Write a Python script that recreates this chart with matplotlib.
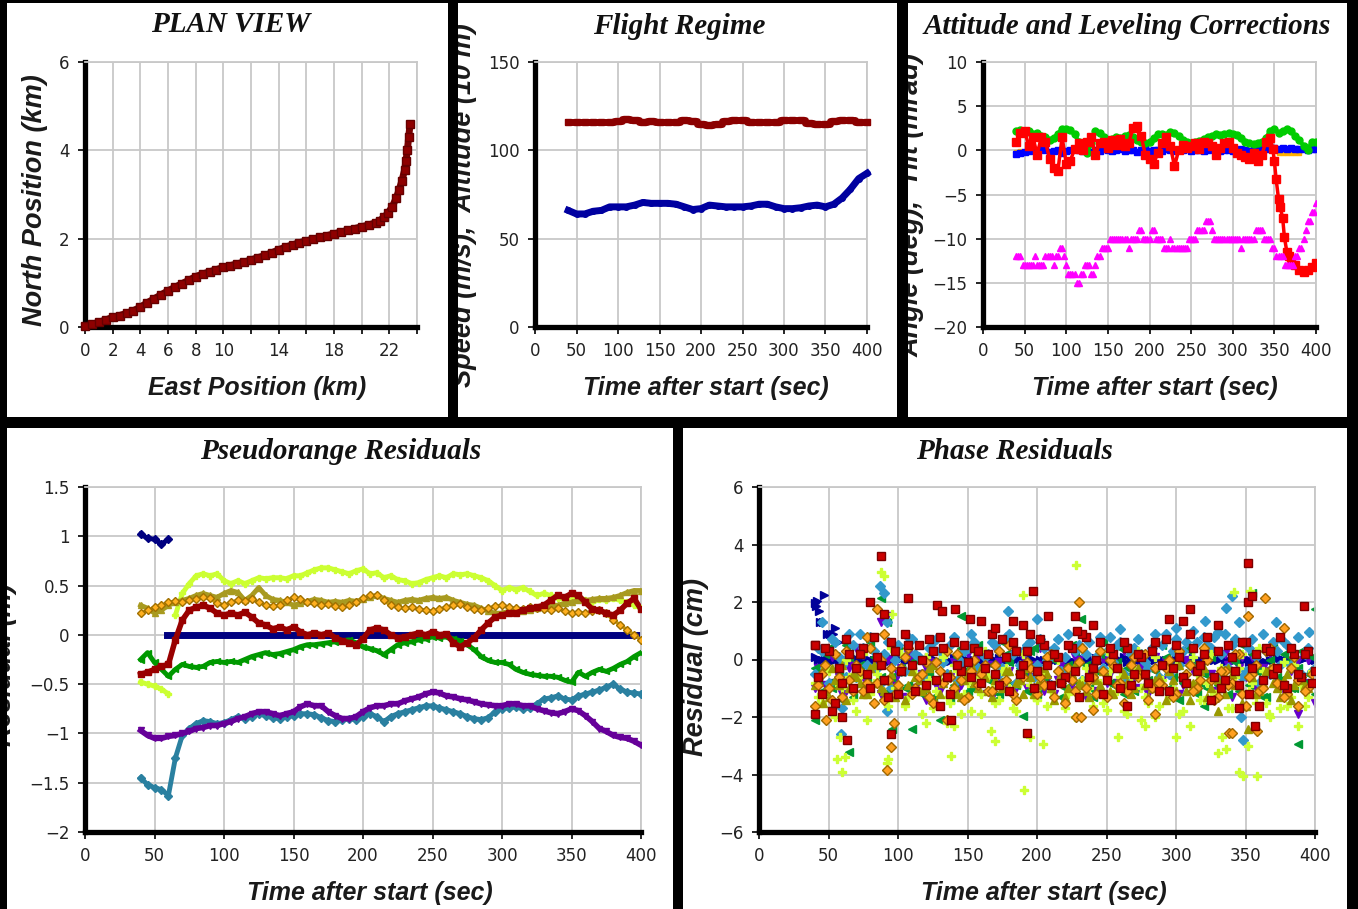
import matplotlib
matplotlib.use("Agg")
import matplotlib.pyplot as plt
from matplotlib.patches import Rectangle
from matplotlib.ticker import FixedLocator, FixedFormatter

# ---------------- DATA ----------------
# Plan view (km)
PLAN_E = [0.0, 0.5, 1.0, 1.5, 2.0, 2.5, 3.0, 3.5, 4.0, 4.5, 5.0, 5.5, 6.0, 6.5, 7.0, 7.5, 8.0,
          8.5, 9.0, 9.5, 10.0, 10.5, 11.0, 11.5, 12.0, 12.5, 13.0, 13.5, 14.0, 14.5, 15.0, 15.5,
          16.0, 16.5, 17.0, 17.5, 18.0, 18.5, 19.0, 19.5, 20.0, 20.5, 21.0, 21.3, 21.6, 21.9,
          22.2, 22.5, 22.7, 22.9, 23.1, 23.2, 23.3, 23.4, 23.5]
PLAN_N = [0.02, 0.06, 0.11, 0.16, 0.22, 0.26, 0.31, 0.37, 0.45, 0.55, 0.64, 0.73, 0.82, 0.9, 0.98,
          1.06, 1.14, 1.2, 1.25, 1.3, 1.35, 1.39, 1.43, 1.47, 1.52, 1.57, 1.62, 1.68, 1.75, 1.81,
          1.86, 1.91, 1.95, 1.99, 2.03, 2.07, 2.11, 2.15, 2.19, 2.23, 2.27, 2.31, 2.36, 2.41, 2.48,
          2.58, 2.72, 2.92, 3.1, 3.3, 3.55, 3.75, 4.0, 4.3, 4.6]

# Flight regime, every 10 s from 40 to 400
T10 = list(range(40, 401, 10))
ALTITUDE = [116, 116, 116, 116, 116, 116, 116.5, 118, 117, 116, 116.5, 116, 116, 116, 117,
            116.5, 115, 114.5, 115, 116.5, 117, 117, 116, 116, 116, 116, 117, 117, 117, 115.5,
            115, 115, 116.5, 117, 117, 116, 116]
SPEED = [66, 64, 64, 65.5, 66, 68, 68, 68, 69, 70.5, 70, 70, 70, 69.5, 68, 66.5, 67, 69, 68.5,
         68, 68, 68, 68.5, 69.5, 69.5, 68, 67, 67, 67.5, 68.5, 69, 68, 69.5, 73, 78, 84, 87]

# Common 5-s time bases
T5 = list(range(40, 401, 5))
T5B = [t + 2.5 for t in range(40, 400, 5)]

# Attitude and leveling corrections
ATT_GREEN = [2.2, 2.3, 2.0, 2.2, 1.8, 2.0, 1.6, 1.5, 1.2, 1.4,
             1.9, 2.4, 2.4, 2.3, 1.8, 1.0, 0.2, -0.3, 0.8, 2.2,
             2.0, 1.5, 1.0, 1.3, 1.5, 1.4, 1.6, 1.7, 1.5, 1.2,
             1.0, 0.8, 1.0, 1.4, 1.8, 1.9, 1.7, 2.1, 2.0, 1.6,
             1.2, 1.0, 0.8, 0.9, 1.1, 1.3, 1.5, 1.6, 1.8, 1.7,
             1.8, 2.0, 1.9, 1.7, 1.4, 1.0, 0.8, 0.7, 0.8, 0.9,
             1.4, 2.2, 2.4, 2.0, 2.2, 2.4, 2.2, 1.6, 1.2, 0.5,
             0.0, 1.0, 1.0]
ATT_BLUE = [-0.4, -0.3, -0.2, -0.1, 0.0, -0.2, 0.1, 0.0, -0.2, -0.1,
            0.0, -0.3, -0.1, 0.0, 0.1, 0.0, -0.1, 0.0, -0.2, 0.0,
            -0.1, 0.1, 0.0, -0.1, 0.0, 0.1, -0.1, 0.0, 0.0, -0.2,
            0.0, 0.1, -0.1, 0.0, 0.0, -0.1, 0.1, 0.0, -0.1, 0.0,
            0.0, 0.1, -0.1, 0.0, 0.0, -0.1, 0.0, 0.1, 0.0, -0.1,
            0.0, 0.0, -0.1, 0.0, 0.1, 0.0, -0.1, 0.0, 0.0, 0.1,
            0.2, 0.3, 0.3, 0.2, 0.3, 0.2, 0.3, 0.2, 0.1, 0.2,
            0.0, 0.1, 0.2]
ATT_ORANGE_T = [40, 45, 50, 355, 360, 365, 370, 375, 380]
ATT_ORANGE = [-0.2, -0.1, -0.2, -0.3, -0.35, -0.3, -0.35, -0.35, -0.3]
ATT_RED_T = [40, 45, 50, 55, 60, 65, 70, 75, 80, 85, 90, 95, 100, 105, 110, 115, 120, 125, 130,
             135, 140, 145, 150, 155, 160, 165, 170, 175, 180, 185, 190, 195, 200, 205, 210, 215,
             220, 225, 230, 235, 240, 245, 250, 255, 260, 265, 270, 275, 280, 285, 290, 295, 300,
             305, 310, 315, 320, 325, 330, 335, 340, 345, 348, 350, 352, 355, 357, 360, 362, 365,
             367, 370, 375, 380, 385, 390, 395, 400]
ATT_RED = [1.0, 2.0, 2.2, 0.5, 1.5, -0.5, 1.5, 1.0, -1.0, -2.0, -2.3, 1.5, -1.5, -1.2, 0.2, 0.8,
           0.0, 1.0, 1.5, -0.5, 0.8, 1.0, 0.3, 1.2, 0.6, 1.3, 0.5, 0.8, 2.5, 2.8, 1.6, -0.5,
           -1.0, -1.5, -0.3, 0.8, 1.5, 0.5, -1.8, 0.0, 0.6, 0.3, 0.5, 0.8, 0.2, 1.0, 0.8, 0.5,
           -0.5, 0.3, 0.8, 1.0, 0.3, -0.3, -0.5, -0.8, -1.0, -0.3, -1.2, -0.5, 1.0, 1.4, 0.2,
           -1.2, -3.2, -5.5, -6.4, -7.7, -9.8, -11.5, -12.0, -12.6, -13.0, -13.5, -13.8, -13.6,
           -13.2, -12.7]
ATT_MAGENTA = [-12, -12, -13, -13, -13, -13, -13, -12, -12, -13,
               -12, -11, -13, -14, -14, -15, -14, -13, -14, -13,
               -12, -11, -11, -10, -10, -10, -10, -11, -10, -10,
               -9, -10, -10, -9, -10, -10, -11, -10, -11, -11,
               -11, -11, -10, -10, -9, -9, -8, -9, -10, -10,
               -10, -10, -10, -10, -11, -10, -10, -10, -9, -9,
               -10, -10, -11, -12, -12, -13, -13, -12, -11, -10,
               -8, -7, -6]
ATT_MAGENTA_B = [-12, -13, -13, -13, -12, -13, -13, -12, -12, -12,
                 -11, -12, -14, -14, -15, -14, -13, -13, -14, -12,
                 -11, -11, -10, -10, -10, -10, -10, -10, -10, -9,
                 -10, -10, -9, -10, -10, -11, -11, -11, -11, -11,
                 -11, -10, -10, -9, -9, -8, -8, -10, -10, -10,
                 -10, -10, -10, -10, -10, -10, -10, -9, -9, -10,
                 -10, -11, -12, -12, -13, -13, -13, -12, -11, -9,
                 -8, -7]

# Pseudorange residuals (m)
PR_NAVY_A_T = [40, 45, 50, 55, 60]
PR_NAVY_A = [1.02, 0.98, 0.97, 0.92, 0.97]
PR_NAVY_B_T = [59, 400]
PR_NAVY_B = [0.0, 0.0]
PR_CHART_A_T = [40, 45, 50, 55, 60]
PR_CHART_A = [-0.48, -0.5, -0.52, -0.55, -0.6]
PR_CHART_B_T = list(range(65, 401, 5))
PR_CHART_B = [0.2, 0.42, 0.52, 0.6, 0.62, 0.6, 0.62, 0.55, 0.52, 0.55,
              0.52, 0.55, 0.58, 0.57, 0.58, 0.58, 0.57, 0.6, 0.6, 0.63,
              0.66, 0.68, 0.68, 0.66, 0.64, 0.62, 0.65, 0.67, 0.62, 0.63,
              0.58, 0.6, 0.56, 0.55, 0.52, 0.53, 0.56, 0.58, 0.6, 0.58,
              0.62, 0.61, 0.62, 0.6, 0.58, 0.55, 0.5, 0.45, 0.48, 0.46,
              0.48, 0.44, 0.4, 0.42, 0.4, 0.37, 0.36, 0.35, 0.38, 0.35,
              0.33, 0.36, 0.35, 0.37, 0.35, 0.33, 0.3, 0.27]
PR_OLIVE = [0.3, 0.27, 0.22, 0.25, 0.3, 0.33, 0.35, 0.37, 0.4, 0.42,
            0.4, 0.38, 0.42, 0.45, 0.43, 0.35, 0.4, 0.48, 0.4, 0.36,
            0.35, 0.33, 0.3, 0.32, 0.34, 0.36, 0.35, 0.33, 0.34, 0.33,
            0.35, 0.34, 0.36, 0.38, 0.4, 0.37, 0.35, 0.33, 0.35, 0.36,
            0.35, 0.37, 0.38, 0.37, 0.38, 0.35, 0.33, 0.31, 0.3, 0.27,
            0.24, 0.22, 0.22, 0.24, 0.25, 0.24, 0.25, 0.27, 0.28, 0.3,
            0.3, 0.32, 0.33, 0.35, 0.35, 0.36, 0.37, 0.37, 0.38, 0.4,
            0.43, 0.45, 0.45]
PR_ORANGE = [0.22, 0.25, 0.28, 0.3, 0.33, 0.34, 0.33, 0.35, 0.36, 0.38,
             0.37, 0.32, 0.3, 0.33, 0.35, 0.34, 0.36, 0.33, 0.3, 0.29,
             0.3, 0.35, 0.38, 0.36, 0.33, 0.32, 0.3, 0.31, 0.29, 0.28,
             0.3, 0.33, 0.37, 0.4, 0.4, 0.35, 0.3, 0.28, 0.27, 0.28,
             0.26, 0.25, 0.24, 0.26, 0.28, 0.3, 0.31, 0.28, 0.26, 0.25,
             0.27, 0.29, 0.3, 0.28, 0.27, 0.26, 0.28, 0.27, 0.26, 0.25,
             0.27, 0.24, 0.22, 0.23, 0.22, 0.24, 0.25, 0.22, 0.15, 0.1,
             0.05, 0.0, -0.05]
PR_DARKRED = [-0.4, -0.38, -0.35, -0.32, -0.3, -0.05, 0.15, 0.25, 0.28, 0.3,
              0.27, 0.22, 0.2, 0.22, 0.2, 0.23, 0.18, 0.12, 0.1, 0.06,
              0.08, 0.05, 0.08, 0.03, 0.0, 0.02, 0.0, 0.02, -0.03, -0.06,
              -0.08, -0.1, -0.04, 0.05, 0.07, 0.05, 0.0, -0.03, -0.02, 0.0,
              0.02, 0.0, 0.03, 0.0, 0.01, -0.08, -0.12, -0.08, -0.03, 0.05,
              0.12, 0.18, 0.2, 0.22, 0.22, 0.25, 0.27, 0.28, 0.3, 0.35,
              0.4, 0.38, 0.42, 0.4, 0.33, 0.26, 0.25, 0.22, 0.2, 0.25,
              0.32, 0.37, 0.26]
PR_GREEN = [-0.25, -0.18, -0.28, -0.35, -0.42, -0.35, -0.3, -0.32, -0.33, -0.32,
            -0.28, -0.27, -0.28, -0.27, -0.28, -0.25, -0.22, -0.2, -0.18, -0.2,
            -0.19, -0.17, -0.15, -0.12, -0.1, -0.1, -0.09, -0.08, -0.07, -0.06,
            -0.05, -0.08, -0.12, -0.14, -0.16, -0.2, -0.15, -0.1, -0.08, -0.07,
            -0.05, -0.04, -0.02, -0.03, -0.02, -0.04, -0.06, -0.1, -0.15, -0.22,
            -0.26, -0.28, -0.28, -0.3, -0.35, -0.38, -0.4, -0.41, -0.42, -0.42,
            -0.43, -0.46, -0.48, -0.38, -0.42, -0.38, -0.35, -0.37, -0.34, -0.3,
            -0.27, -0.22, -0.18]
PR_TEAL = [-1.45, -1.52, -1.55, -1.57, -1.63, -1.25, -1.02, -0.95, -0.9, -0.87,
           -0.88, -0.9, -0.89, -0.86, -0.83, -0.85, -0.83, -0.8, -0.82, -0.84,
           -0.85, -0.83, -0.82, -0.8, -0.8, -0.81, -0.84, -0.87, -0.88, -0.86,
           -0.85, -0.86, -0.83, -0.8, -0.83, -0.88, -0.83, -0.8, -0.78, -0.76,
           -0.74, -0.72, -0.72, -0.74, -0.76, -0.78, -0.8, -0.83, -0.85, -0.86,
           -0.84, -0.78, -0.75, -0.74, -0.73, -0.75, -0.74, -0.7, -0.65, -0.64,
           -0.62, -0.65, -0.66, -0.62, -0.6, -0.58, -0.56, -0.53, -0.5, -0.55,
           -0.58, -0.59, -0.6]
PR_PURPLE = [-0.97, -1.02, -1.05, -1.05, -1.03, -1.02, -1.0, -0.98, -0.95, -0.94,
             -0.92, -0.92, -0.9, -0.88, -0.85, -0.83, -0.8, -0.78, -0.78, -0.8,
             -0.82, -0.8, -0.78, -0.73, -0.7, -0.72, -0.72, -0.78, -0.82, -0.85,
             -0.85, -0.83, -0.78, -0.74, -0.72, -0.72, -0.7, -0.7, -0.67, -0.65,
             -0.63, -0.6, -0.58, -0.59, -0.62, -0.63, -0.65, -0.66, -0.68, -0.7,
             -0.71, -0.72, -0.72, -0.7, -0.7, -0.72, -0.72, -0.75, -0.77, -0.79,
             -0.8, -0.78, -0.75, -0.77, -0.82, -0.88, -0.95, -0.98, -1.02, -1.04,
             -1.05, -1.08, -1.12]
PR_YTICKS = [-2, -1.5, -1, -0.5, 0, 0.5, 1, 1.5]
PR_YLABELS = ['\u22122', '\u22121.5', '\u22121', '\u22120.5', '0', '0.5', '1', '1.5']

# Phase residuals (cm): core band (two interleaved 5-s samplings) + visible outliers
PH_NAVY = [0.1, 0.0, -0.1, 0.0, 0.05, -0.05, 0.0, 0.1, 0.0, -0.1,
           0.0, 0.05, 0.0, -0.05, 0.0, 0.1, 0.0, 0.0, -0.1, 0.0,
           0.05, 0.0, -0.05, 0.0, 0.0, 0.1, 0.0, -0.05, 0.0, 0.05,
           0.0, 0.0, -0.1, 0.0, 0.05, 0.0, 0.0, -0.05, 0.1, 0.0,
           0.0, -0.05, 0.0, 0.05, 0.0, -0.1, 0.0, 0.0, 0.05, 0.0,
           -0.05, 0.0, 0.1, 0.0, 0.0, -0.05, 0.0, 0.05, 0.0, -0.1,
           0.0, 0.0, 0.05, -0.1, -0.15, -0.1, 0.0, 0.05, 0.0, -0.05,
           0.0, 0.1, 0.0]
PH_NAVY_B = [0.0, 0.05, 0.0, -0.1, 0.0, 0.1, 0.0, -0.05, 0.0, 0.05,
             -0.1, 0.0, 0.05, 0.0, -0.05, 0.0, 0.1, 0.0, 0.0, -0.05,
             0.0, 0.05, 0.0, -0.1, 0.0, 0.0, 0.05, 0.0, -0.05, 0.0,
             0.1, 0.0, 0.0, -0.05, 0.0, 0.05, 0.0, -0.1, 0.0, 0.0,
             0.05, 0.0, -0.05, 0.0, 0.1, 0.0, 0.0, -0.05, 0.0, 0.05,
             0.0, -0.1, 0.0, 0.0, 0.05, 0.0, -0.05, 0.0, 0.1, 0.0,
             0.0, -0.05, -0.1, -0.15, -0.1, 0.0, 0.05, 0.0, -0.05, 0.0,
             0.05, 0.0]
PH_NAVY_X_T = [40, 41, 42, 43, 44, 46, 47, 49, 51, 53, 55, 57]
PH_NAVY_X = [1.95, 1.85, 2.05, 1.7, 1.3, 1.3, 2.25, 0.9, 0.9, 0.9, 1.1, 0.6]

PH_PURPLE = [-1.0, -0.4, 0.2, -0.8, -1.2, -0.3, 0.4, -0.6, -1.0, -0.2,
             0.1, -0.9, -0.5, -1.3, 0.0, -0.7, -0.3, 0.3, -1.1, -0.6,
             -0.1, -0.9, 0.2, -0.5, -1.2, -0.2, 0.4, -0.8, -0.4, -1.0,
             0.1, -0.6, -0.2, -1.1, 0.3, -0.7, -0.3, -0.9, 0.0, -1.3,
             -0.5, 0.2, -0.8, -0.1, -1.0, 0.4, -0.6, -0.3, -1.2, 0.1,
             -0.7, -0.4, 0.3, -0.9, -0.2, -1.1, 0.0, -0.5, -0.8, 0.2,
             -1.3, -0.3, -0.6, 0.1, -1.0, -0.4, 0.3, -0.8, -1.2, -0.2,
             -0.6, 0.0, -1.5]
PH_PURPLE_B = [-0.3, -0.9, 0.1, -0.6, -1.1, -0.2, 0.3, -0.8, -0.4, -1.2,
               0.0, -0.7, -0.3, 0.2, -1.0, -0.5, -0.1, -0.9, 0.3, -0.6,
               -1.1, -0.2, -0.7, 0.1, -0.4, -1.3, -0.1, -0.8, 0.2, -0.5,
               -1.0, -0.3, 0.4, -0.7, -1.2, -0.2, -0.6, 0.1, -0.9, -0.4,
               -1.1, 0.0, -0.5, -0.8, 0.3, -0.3, -1.0, -0.6, 0.2, -0.9,
               -0.1, -0.7, -1.2, 0.0, -0.4, -0.8, 0.3, -1.1, -0.5, -0.2,
               -0.9, 0.1, -0.6, -1.0, -0.3, 0.2, -0.7, -1.1, -0.4, 0.0,
               -0.8, -0.5]
PH_PURPLE_X_T = [88, 92, 120, 388]
PH_PURPLE_X = [1.3, 1.5, -1.4, -1.9]

PH_GREEN = [-0.3, -1.1, 0.4, -0.7, -1.4, 0.1, -0.5, -0.9, 0.6, -0.2,
            -1.2, -0.6, 0.3, -1.0, -0.4, 0.5, -0.8, -1.3, 0.0, -0.5,
            -0.9, 0.4, -1.1, -0.3, 0.2, -0.7, -1.4, 0.6, -0.1, -0.9,
            -0.5, 0.3, -1.2, -0.6, 0.1, -0.4, -1.0, 0.5, -0.8, -0.2,
            -1.3, 0.2, -0.6, -0.9, 0.4, -0.3, -1.1, 0.0, -0.7, -0.4,
            0.5, -1.0, -0.2, -0.8, 0.3, -1.2, -0.5, 0.1, -0.9, -0.3,
            0.6, -1.1, -0.6, 0.2, -0.4, -1.3, 0.4, -0.7, -0.1, -1.0,
            0.3, -0.5, -1.2]
PH_GREEN_B = [-0.7, 0.2, -1.0, -0.4, 0.5, -1.3, -0.2, -0.8, 0.1, -0.6,
              -1.1, 0.4, -0.3, -0.9, 0.0, -1.2, -0.5, 0.3, -0.7, -1.4,
              0.1, -0.4, -1.0, 0.5, -0.6, -0.2, -1.2, 0.2, -0.8, -0.3,
              -1.1, 0.4, -0.5, -0.9, 0.0, -1.3, -0.2, 0.3, -0.7, -1.0,
              -0.4, 0.6, -0.8, -0.1, -1.2, -0.5, 0.2, -0.9, -0.3, -1.1,
              0.1, -0.6, -1.4, 0.4, -0.2, -0.8, -1.0, 0.3, -0.5, -1.2,
              -0.1, 0.5, -0.9, -0.4, -1.3, 0.0, -0.6, 0.2, -1.0, -0.3,
              -0.8, 0.1]
PH_GREEN_X_T = [40, 65, 88, 92, 96, 110, 130, 145, 190, 232, 320, 355, 388, 400]
PH_GREEN_X = [-2.1, -3.2, 2.15, 1.3, -2.4, -2.4, -2.1, 1.5, -1.95, 1.4, -1.6, 2.3, -2.95, 1.75]

PH_OLIVE = [-0.9, -0.4, -1.3, -0.7, -0.2, -1.0, -0.6, -1.2, -0.3, -0.8,
            -1.1, -0.5, -0.9, -1.4, -0.4, -0.7, -1.0, -0.2, -1.2, -0.6,
            -0.9, -1.3, -0.5, -0.8, -0.3, -1.1, -0.7, -1.0, -0.4, -0.8,
            -1.2, -0.6, -0.9, -0.3, -1.0, -0.7, -1.3, -0.5, -0.8, -1.1,
            -0.4, -0.9, -0.6, -1.2, -0.3, -0.8, -1.0, -0.5, -1.3, -0.7,
            -0.9, -0.4, -1.1, -0.6, -1.4, -0.8, -0.3, -1.0, -0.7, -1.2,
            -0.5, -0.9, -1.6, -0.6, -1.1, -0.4, -0.8, -1.3, -0.5, -0.9,
            -0.7, -1.0, -0.6]
PH_OLIVE_B = [-0.6, -1.1, -0.3, -0.9, -1.4, -0.5, -0.8, -1.2, -0.2, -1.0,
              -0.7, -1.3, -0.4, -0.9, -0.6, -1.1, -0.3, -1.5, -0.8, -0.5,
              -1.2, -0.7, -0.2, -1.0, -0.6, -1.3, -0.9, -0.4, -1.1, -0.7,
              -0.3, -1.2, -0.8, -0.5, -1.4, -0.6, -1.0, -0.2, -0.9, -1.3,
              -0.7, -0.4, -1.1, -0.8, -0.5, -1.2, -0.3, -0.9, -1.0, -0.6,
              -1.4, -0.7, -0.2, -1.1, -0.8, -0.4, -1.3, -0.6, -1.0, -0.3,
              -0.9, -1.5, -0.5, -1.2, -0.8, -0.3, -1.0, -0.7, -1.4, -0.6,
              -0.9, -0.4]
PH_OLIVE_X_T = [46, 330, 352]
PH_OLIVE_X = [-1.5, -1.8, -2.4]

PH_TEAL = [-0.5, 0.3, -0.8, 0.6, -0.2, 0.9, -0.6, 0.4, 0.8, -0.3,
           0.2, -1.0, 0.5, -0.4, 0.7, 0.1, -0.7, 0.6, 0.3, -0.5,
           0.8, -0.1, 0.4, 0.6, -0.6, 0.2, 0.5, -0.3, 0.9, -0.8,
           0.3, 0.6, -0.2, 0.4, -0.9, 0.7, 0.1, -0.4, 0.5, 0.2,
           -0.6, 0.8, 0.3, -0.1, 0.6, -0.7, 0.4, 0.2, -0.3, 0.9,
           0.5, -0.5, 0.7, 0.3, -0.2, 0.6, 0.8, 0.4, -0.6, 0.9,
           0.5, 0.2, -0.4, 0.7, -0.8, 0.3, 0.6, -0.2, 0.5, 0.1,
           -0.5, 0.4, -0.3]
PH_TEAL_B = [0.4, -0.3, 0.7, 0.1, -0.6, 0.5, 0.9, -0.2, 0.3, -0.8,
             0.6, 0.0, -0.4, 0.8, 0.2, -0.5, 0.4, 0.7, -0.1, 0.5,
             -0.7, 0.3, 0.9, -0.3, 0.1, 0.6, -0.5, 0.8, 0.2, -0.2,
             0.5, -0.6, 0.7, 0.0, 0.4, -0.4, 0.9, 0.3, -0.7, 0.6,
             0.1, -0.3, 0.8, 0.5, -0.5, 0.2, 0.7, -0.1, 0.4, -0.6,
             0.9, 0.3, -0.2, 0.6, 1.0, -0.4, 0.5, 0.8, 0.2, -0.3,
             0.7, -0.6, 0.4, 0.1, 0.9, -0.5, 0.3, 0.6, -0.2, 0.8,
             0.2, -0.4]
PH_TEAL_X_T = [45, 59, 60, 87, 90, 92, 92, 179, 200, 260, 300, 321, 330, 336, 340, 345, 347, 348,
               372, 396]
PH_TEAL_X = [1.3, -2.6, -1.7, 2.55, 2.3, 1.3, -1.8, 1.7, 1.4, 1.05, 1.1, 1.35, 0.95, 1.8, 2.2,
             1.3, -2.0, -2.8, 1.3, 0.95]

PH_ORANGE = [-1.6, -0.5, -1.0, 0.2, -1.3, -0.7, -0.2, -1.1, 0.4, -0.8,
             -1.4, -0.3, -0.9, 0.1, -1.2, -0.6, -0.1, -1.5, -0.4, 0.3,
             -1.0, -0.7, -1.3, 0.0, -0.5, -1.1, -0.2, -0.8, 0.5, -1.4,
             -0.6, -0.3, -1.2, -0.9, 0.2, -0.4, -1.5, -0.7, -0.1, -1.0,
             -0.6, 0.3, -1.3, -0.2, -0.8, -1.1, 0.1, -0.5, -1.4, -0.3,
             -0.9, 0.0, -1.2, -0.6, -0.2, -1.0, 0.4, -0.7, -1.3, -0.4,
             -0.8, 0.2, -1.6, -0.5, -1.1, 0.3, -0.3, -0.9, -1.2, 0.1,
             -0.6, -1.0, -0.4]
PH_ORANGE_B = [-0.9, -0.2, -1.4, -0.6, 0.3, -1.1, -0.4, -0.8, -1.5, 0.0,
               -0.7, -1.2, -0.3, 0.4, -1.0, -0.5, -1.3, -0.1, -0.8, -0.6,
               0.2, -1.4, -0.4, -0.9, -0.2, -1.1, 0.3, -0.7, -1.2, -0.5,
               -0.1, -1.0, -0.6, 0.1, -1.3, -0.8, -0.3, -1.1, 0.4, -0.7,
               -1.2, -0.4, 0.0, -0.9, -1.5, -0.2, -0.6, 0.2, -1.0, -0.8,
               -0.3, -1.3, 0.3, -0.5, -1.1, -0.7, 0.0, -1.4, -0.4, -0.9,
               0.2, -1.2, -0.6, -0.2, -1.0, 0.4, -0.8, -1.3, -0.3, -0.7,
               -1.1, -0.5]
PH_ORANGE_X_T = [48, 78, 85, 90, 92, 95, 97, 135, 228, 230, 232, 240, 285, 338, 340, 352, 358,
                 364, 378, 388]
PH_ORANGE_X = [-2.1, 0.8, 1.75, 0.9, -3.85, -3.05, -2.2, -2.1, -2.0, 2.0, -2.0, -1.75, -1.9,
               -2.55, -2.55, 1.5, -2.5, 2.15, 1.1, -1.6]

PH_CHART = [-0.8, -1.5, -0.4, -2.0, -1.0, -0.6, -1.8, 0.2, -1.2, -0.5,
            -1.4, 0.4, -0.9, -1.6, -0.3, -1.1, 0.1, -1.7, -0.7, -1.3,
            -0.2, -1.9, -0.8, 0.3, -1.2, -0.6, -1.5, -0.4, -1.0, -1.8,
            0.2, -0.9, -1.4, -0.5, -1.1, 0.0, -1.7, -0.7, -1.3, -0.3,
            -1.6, -0.8, 0.3, -1.2, -0.6, -1.9, -0.4, -1.0, -1.5, 0.1,
            -0.7, -1.3, -0.2, -1.8, -0.9, -0.5, -1.4, 0.2, -1.1, -0.6,
            -1.7, -0.3, -1.2, -0.8, 0.4, -1.5, -0.5, -1.0, -1.6, -0.2,
            -0.9, -1.3, -0.7]
PH_CHART_B = [-1.3, -0.3, -1.7, -0.9, 0.0, -1.4, -0.6, -2.1, -0.8, -0.2,
              -1.6, -1.0, 0.2, -1.3, -0.5, -1.9, -0.7, -1.1, 0.1, -1.5,
              -0.4, -1.2, -1.8, -0.6, 0.3, -1.0, -1.4, -0.3, -1.7, -0.8,
              -0.1, -1.3, -0.9, -1.6, 0.2, -0.5, -1.2, -2.0, -0.7, -1.0,
              0.0, -1.5, -0.4, -1.1, -1.8, -0.6, 0.3, -1.3, -0.9, -1.6,
              -0.2, -1.0, -1.9, -0.5, 0.1, -1.4, -0.8, -1.2, -0.3, -1.7,
              -0.6, 0.2, -1.1, -1.5, -0.4, -2.0, -0.9, -0.1, -1.3, -0.7,
              -1.6, -0.4]
PH_CHART_X_T = [56, 58, 60, 62, 88, 90, 92, 93, 96, 120, 135, 138, 140, 160, 167, 170, 190, 191,
                195, 204, 228, 250, 258, 275, 278, 285, 300, 310, 330, 333, 336, 342, 345, 348,
                352, 353, 358, 367, 375, 388]
PH_CHART_X = [-3.45, -2.7, -3.9, -3.4, 3.05, 2.9, -3.6, -3.45, 1.6, -2.2, -2.2, -3.35, -2.3,
              -1.9, -2.5, -2.85, 2.25, -4.55, -2.7, -2.95, 3.3, -1.75, -2.7, -2.1, -2.3, -2.0,
              -2.7, -2.3, -3.25, -2.7, -3.1, 2.35, -3.9, -4.05, -3.0, 2.4, -4.05, -1.9, -1.7,
              -2.3]

PH_RED_A = [0.5, -1.2, 0.3, -1.5, -0.8, 0.2, -0.3, 0.4, -1.0, 0.1,
            -0.7, 0.6, -1.2, 0.9, -0.2, 0.5, -0.9, 0.3, 0.8, -0.6,
            0.6, -0.4, -0.1, 0.4, -0.8, 0.2, -0.5, 0.7, -1.1, 0.3,
            -0.2, 0.9, -0.4, 0.5, -0.9, 0.1, -0.6, 0.4, -1.3, 0.8,
            -0.3, 0.6, -0.7, 0.2, -1.0, 0.4, -0.5, 0.1, -0.8, 0.6,
            -0.2, -1.1, 0.5, -0.6, 0.9, -0.4, 0.2, -1.4, 0.3, -0.7,
            0.1, -0.9, 0.6, -0.3, -1.6, 0.4, -0.5, 0.8, -1.0, 0.2,
            -0.6, 0.3, -0.4]
PH_RED_B = [-0.6, 0.4, -1.8, -0.3, 0.7, -1.0, 0.2, -0.5, 0.8, -0.2,
            -1.3, 0.3, -0.4, 0.5, -1.1, 0.0, 0.7, -0.7, 0.4, -1.2,
            -0.2, 0.5, -0.6, 0.3, -0.3, 0.9, -0.9, 0.1, 0.6, -0.5,
            0.3, -1.0, 0.7, -0.2, 0.2, -0.8, 0.5, -0.4, 0.9, -0.6,
            0.0, -1.2, 0.4, -0.3, 0.6, -0.9, 0.2, -0.5, 0.3, -1.1,
            0.7, -0.3, 0.1, -0.8, 0.4, -0.2, 0.8, -0.6, -1.0, 0.5,
            -0.4, 0.6, -1.2, 0.2, -0.7, 0.3, -0.3, -0.9, 0.4, -0.5,
            0.2, -0.8]
PH_RED_X_T = [40, 40, 60, 63, 80, 88, 90, 95, 107, 128, 130, 132, 138, 141, 152, 160, 170, 183,
              190, 193, 197, 208, 227, 229, 240, 265, 295, 305, 310, 330, 345, 352, 352, 355,
              357, 392]
PH_RED_X = [-1.9, 0.5, -2.0, -2.8, 2.0, 3.6, 1.6, -2.6, 2.15, 1.9, -1.6, 1.7, -2.1, 1.75, 1.4,
            1.35, 1.1, 1.35, 1.2, -2.55, 2.4, 1.5, 1.5, 1.0, 1.2, -1.6, 1.4, 1.35, 1.75, 1.2,
            -1.7, 3.35, 2.0, 2.2, -2.3, 1.85]

TIME_TICKS = [0, 50, 100, 150, 200, 250, 300, 350, 400]

# ---------------- LAYOUT ----------------
W, H = 1358, 909
fig = plt.figure(figsize=(W / 100, H / 100), dpi=100, facecolor='black')


def frac(x0, y0, x1, y1):
    return [x0 / W, 1 - y1 / H, (x1 - x0) / W, (y1 - y0) / H]


# white panels
for (x0, y0, x1, y1) in [(7, 3, 448, 417), (458, 3, 897, 417), (908, 3, 1347, 417),
                         (7, 428, 673, 909), (683, 428, 1347, 909)]:
    fig.patches.append(Rectangle((x0 / W, 1 - y1 / H), (x1 - x0) / W, (y1 - y0) / H,
                                 transform=fig.transFigure, facecolor='white',
                                 edgecolor='none', zorder=-5))
# black separators drawn on top (they trim the overflowing axis titles like the original)
for (x0, y0, x1, y1) in [(0, 0, 7, 909), (1347, 0, 1358, 909), (0, 0, 1358, 3),
                         (0, 417, 1358, 428), (448, 0, 458, 417), (897, 0, 908, 417),
                         (673, 428, 683, 909)]:
    fig.patches.append(Rectangle((x0 / W, 1 - y1 / H), (x1 - x0) / W, (y1 - y0) / H,
                                 transform=fig.transFigure, facecolor='black',
                                 edgecolor='none', zorder=20))

TITLE_FONT = dict(family='Liberation Serif', weight='bold', style='italic', size=21,
                  color='#111111')
XLABEL_FONT = dict(family='Liberation Sans', weight='bold', style='italic', size=18,
                   color='#1a1a1a')
YLABEL_FONT = dict(family='Liberation Sans', weight='bold', style='italic', size=19.5,
                   color='#1a1a1a')
GRID_C = '#C8C8C8'


def style(ax, xlim, ylim, xticks, yticks, xlabels=None, ylabels=None):
    ax.set_xlim(xlim)
    ax.set_ylim(ylim)
    ax.xaxis.set_major_locator(FixedLocator(xticks))
    ax.yaxis.set_major_locator(FixedLocator(yticks))
    if xlabels is not None:
        ax.xaxis.set_major_formatter(FixedFormatter(xlabels))
    if ylabels is not None:
        ax.yaxis.set_major_formatter(FixedFormatter(ylabels))
    ax.grid(True, color=GRID_C, lw=1.3)
    ax.set_axisbelow(True)
    for s in ['top', 'right']:
        ax.spines[s].set_color(GRID_C)
        ax.spines[s].set_linewidth(1.3)
    for s in ['left', 'bottom']:
        ax.spines[s].set_color('black')
        ax.spines[s].set_linewidth(3.8)
    ax.tick_params(direction='out', length=5, width=1.2, color='black', labelsize=12,
                   labelcolor='#222222', pad=6)
    for lab in ax.get_xticklabels() + ax.get_yticklabels():
        lab.set_family('DejaVu Sans')


def ftext(x, y, s, rot=0, **kw):
    fig.text(x / W, 1 - y / H, s, rotation=rot, ha='center', va='center', zorder=5, **kw)


# ---- Panel 1: Plan view
ax1 = fig.add_axes(frac(85, 62, 417, 327))
ax1.plot(PLAN_E, PLAN_N, color='#780000', lw=5, marker='s', ms=5.5, mfc='#8E0000',
         mec='#660000', clip_on=False, zorder=3)
style(ax1, (0, 24), (0, 6), list(range(0, 25, 2)), [0, 2, 4, 6],
      ['0', '2', '4', '6', '8', '10', '', '14', '', '18', '', '22', ''])
ftext(231, 24, 'PLAN VIEW', **TITLE_FONT)
ftext(257, 388, 'East Position (km)', **XLABEL_FONT)
ftext(35, 200, 'North Position (km)', rot=90, **YLABEL_FONT)

# ---- Panel 2: Flight regime
ax2 = fig.add_axes(frac(535, 62, 867, 327))
ax2.plot(T10, ALTITUDE, color='#8B0000', lw=5, marker='s', ms=4, drawstyle='steps-mid',
         clip_on=False, zorder=3)
ax2.plot(T10, SPEED, color='#0000A0', lw=5, marker='o', ms=4, clip_on=False, zorder=3)
style(ax2, (0, 400), (0, 150), TIME_TICKS, [0, 50, 100, 150])
ftext(679, 26, 'Flight Regime', **TITLE_FONT)
ftext(706, 388, 'Time after start (sec)', **XLABEL_FONT)
ftext(464, 205, 'Speed (m/s),  Altitude (10 m)', rot=90, **YLABEL_FONT)

# ---- Panel 3: Attitude
ax3 = fig.add_axes(frac(983, 62, 1316, 327))
ax3.plot(ATT_ORANGE_T, ATT_ORANGE, ls='none', marker='s', ms=3, color='#FFB000', zorder=2)
ax3.plot(T5, ATT_BLUE, ls='-', lw=3, marker='s', ms=4.5, color='#0000FF', zorder=3)
ax3.plot(T5, ATT_GREEN, ls='-', lw=3, marker='o', ms=5, color='#00CC00', zorder=3)
ax3.plot(ATT_RED_T, ATT_RED, ls='-', lw=2.5, marker='s', ms=5.5, color='#FF0000', zorder=4)
ax3.plot(T5, ATT_MAGENTA, ls='none', marker='^', ms=5, color='#FF00FF', zorder=4)
ax3.plot(T5B, ATT_MAGENTA_B, ls='none', marker='^', ms=5, color='#FF00FF', zorder=4)
style(ax3, (0, 400), (-20, 10), TIME_TICKS, [-20, -15, -10, -5, 0, 5, 10])
ftext(1127, 26, 'Attitude and Leveling Corrections', **TITLE_FONT)
ftext(1155, 388, 'Time after start (sec)', **XLABEL_FONT)
ftext(912, 205, 'Angle (deg),  Tilt (mrad)', rot=90, **YLABEL_FONT)

# ---- Panel 4: Pseudorange residuals
ax4 = fig.add_axes(frac(85, 487, 641, 832))
ax4.plot(PR_NAVY_B_T, PR_NAVY_B, color='#000080', lw=5, zorder=2)
ax4.plot(PR_NAVY_A_T, PR_NAVY_A, color='#000080', lw=3.5, marker='D', ms=4, zorder=3)
ax4.plot(PR_CHART_A_T, PR_CHART_A, color='#CCFF33', lw=3.5, marker='P', ms=4.5, zorder=3)
ax4.plot(PR_CHART_B_T, PR_CHART_B, color='#CCFF33', lw=3.5, marker='P', ms=4.5, zorder=3)
ax4.plot(T5, PR_OLIVE, color='#A89A20', lw=3.5, marker='^', ms=4.5, zorder=3)
ax4.plot(T5, PR_ORANGE, color='#C89A10', lw=2.5, marker='D', ms=4, mfc='#FFB020',
         mec='#A07000', zorder=3)
ax4.plot(T5, PR_DARKRED, color='#990000', lw=4, marker='s', ms=4, zorder=4)
ax4.plot(T5, PR_GREEN, color='#009900', lw=3.5, marker='<', ms=4.5, zorder=3)
ax4.plot(T5, PR_TEAL, color='#2A80A0', lw=3.5, marker='D', ms=4, zorder=3)
ax4.plot(T5, PR_PURPLE, color='#660099', lw=4, marker='v', ms=4.5, zorder=3)
style(ax4, (0, 400), (-2, 1.5), TIME_TICKS, PR_YTICKS, None, PR_YLABELS)
ftext(341, 452, 'Pseudorange Residuals', **TITLE_FONT)
ftext(370, 893, 'Time after start (sec)', **XLABEL_FONT)
ftext(4, 665, 'Residual (m)', rot=90, **YLABEL_FONT)

# ---- Panel 5: Phase residuals
ax5 = fig.add_axes(frac(759, 487, 1315, 832))


def scat(tlist, vlist, **kw):
    ax5.plot(tlist, vlist, ls='none', **kw)


NAVY_K = dict(marker='>', ms=5.5, color='#000099', zorder=2)
PURP_K = dict(marker='v', ms=5.5, color='#6600CC', zorder=2)
GRN_K = dict(marker='<', ms=5.5, color='#009933', zorder=2)
OLV_K = dict(marker='^', ms=5.5, color='#999900', zorder=2)
TEAL_K = dict(marker='D', ms=5, color='#3399CC', zorder=2)
ORG_K = dict(marker='D', ms=5, mfc='#FFA020', mec='#A06800', zorder=2)
CHR_K = dict(marker='P', ms=6, color='#CCFF33', zorder=2)
RED_K = dict(marker='s', ms=6, mfc='#CC0000', mec='#7A0000', zorder=3)

scat(T5, PH_NAVY, **NAVY_K)
scat(T5B, PH_NAVY_B, **NAVY_K)
scat(PH_NAVY_X_T, PH_NAVY_X, **NAVY_K)
scat(T5, PH_PURPLE, **PURP_K)
scat(T5B, PH_PURPLE_B, **PURP_K)
scat(PH_PURPLE_X_T, PH_PURPLE_X, **PURP_K)
scat(T5, PH_GREEN, **GRN_K)
scat(T5B, PH_GREEN_B, **GRN_K)
scat(PH_GREEN_X_T, PH_GREEN_X, **GRN_K)
scat(T5, PH_TEAL, **TEAL_K)
scat(T5B, PH_TEAL_B, **TEAL_K)
scat(PH_TEAL_X_T, PH_TEAL_X, **TEAL_K)
scat(T5, PH_CHART, **CHR_K)
scat(T5B, PH_CHART_B, **CHR_K)
scat(PH_CHART_X_T, PH_CHART_X, **CHR_K)
scat(T5, PH_OLIVE, **OLV_K)
scat(T5B, PH_OLIVE_B, **OLV_K)
scat(PH_OLIVE_X_T, PH_OLIVE_X, **OLV_K)
scat(T5, PH_ORANGE, **ORG_K)
scat(T5B, PH_ORANGE_B, **ORG_K)
scat(PH_ORANGE_X_T, PH_ORANGE_X, **ORG_K)
scat(T5, PH_RED_A, **RED_K)
scat(T5B, PH_RED_B, **RED_K)
scat(PH_RED_X_T, PH_RED_X, **RED_K)
style(ax5, (0, 400), (-6, 6), TIME_TICKS, [-6, -4, -2, 0, 2, 4, 6])
ftext(1014, 452, 'Phase Residuals', **TITLE_FONT)
ftext(1044, 893, 'Time after start (sec)', **XLABEL_FONT)
ftext(696, 667, 'Residual (cm)', rot=90, **YLABEL_FONT)

fig.savefig('out.png', dpi=100, facecolor='black')
